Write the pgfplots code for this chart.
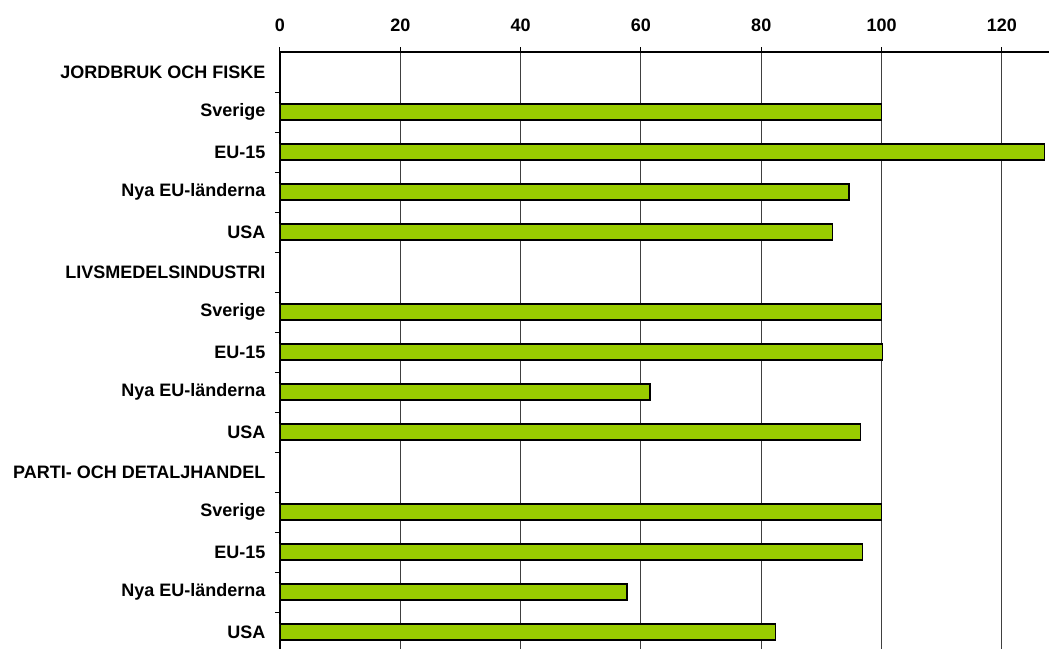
\documentclass[border=0pt]{standalone}
\usepackage{fontspec}
\setmainfont{Liberation Sans}
\usepackage{pgfplots}
\pgfplotsset{compat=1.18}
\definecolor{bargreen}{HTML}{99CC00}

\begin{document}
\begin{tikzpicture}
\begin{axis}[
    at={(0,0)}, anchor=north west,
    scale only axis,
    width=770pt, height=600pt,
    xmin=0, xmax=128,
    ymin=-0.5, ymax=14.5,
    xtick={0,20,...,120},
    xtick pos=top, xticklabel pos=top,
    xmajorgrids,
    grid style={black!75, line width=0.9pt},
    axis line style={line width=1.2pt},
    tick align=outside,
    major tick length=5pt,
    minor tick length=5pt,
    x tick style={black, line width=1pt},
    ytick pos=left,
    ytick={-0.5,0.5,...,13.5},
    yticklabels={},
    y tick style={black, line width=1pt},
    extra y ticks={0,1,...,14},
    extra y tick labels={USA,Nya EU-länderna,EU-15,Sverige,PARTI- OCH DETALJHANDEL,USA,Nya EU-länderna,EU-15,Sverige,LIVSMEDELSINDUSTRI,USA,Nya EU-länderna,EU-15,Sverige,JORDBRUK OCH FISKE},
    extra y tick style={tick style={draw=none}},
    ticklabel style={font=\bfseries\fontsize{18}{21}\selectfont},
    yticklabel style={xshift=-6pt},
    xticklabel style={yshift=12pt},
    /pgf/number format/assume math mode=true,
    xbar, bar width=16pt, bar shift=0pt,
]
\addplot[fill=bargreen, draw=black, line width=1.4pt] coordinates {
(82.4,0)
(57.7,1)
(96.8,2)
(100,3)
(96.5,5)
(61.5,6)
(100.2,7)
(100,8)
(91.8,10)
(94.6,11)
(127.1,12)
(100,13)
};
\end{axis}
\pgfresetboundingbox
\useasboundingbox (-280pt,52pt) rectangle (769pt,-596pt);
\end{tikzpicture}
\end{document}
